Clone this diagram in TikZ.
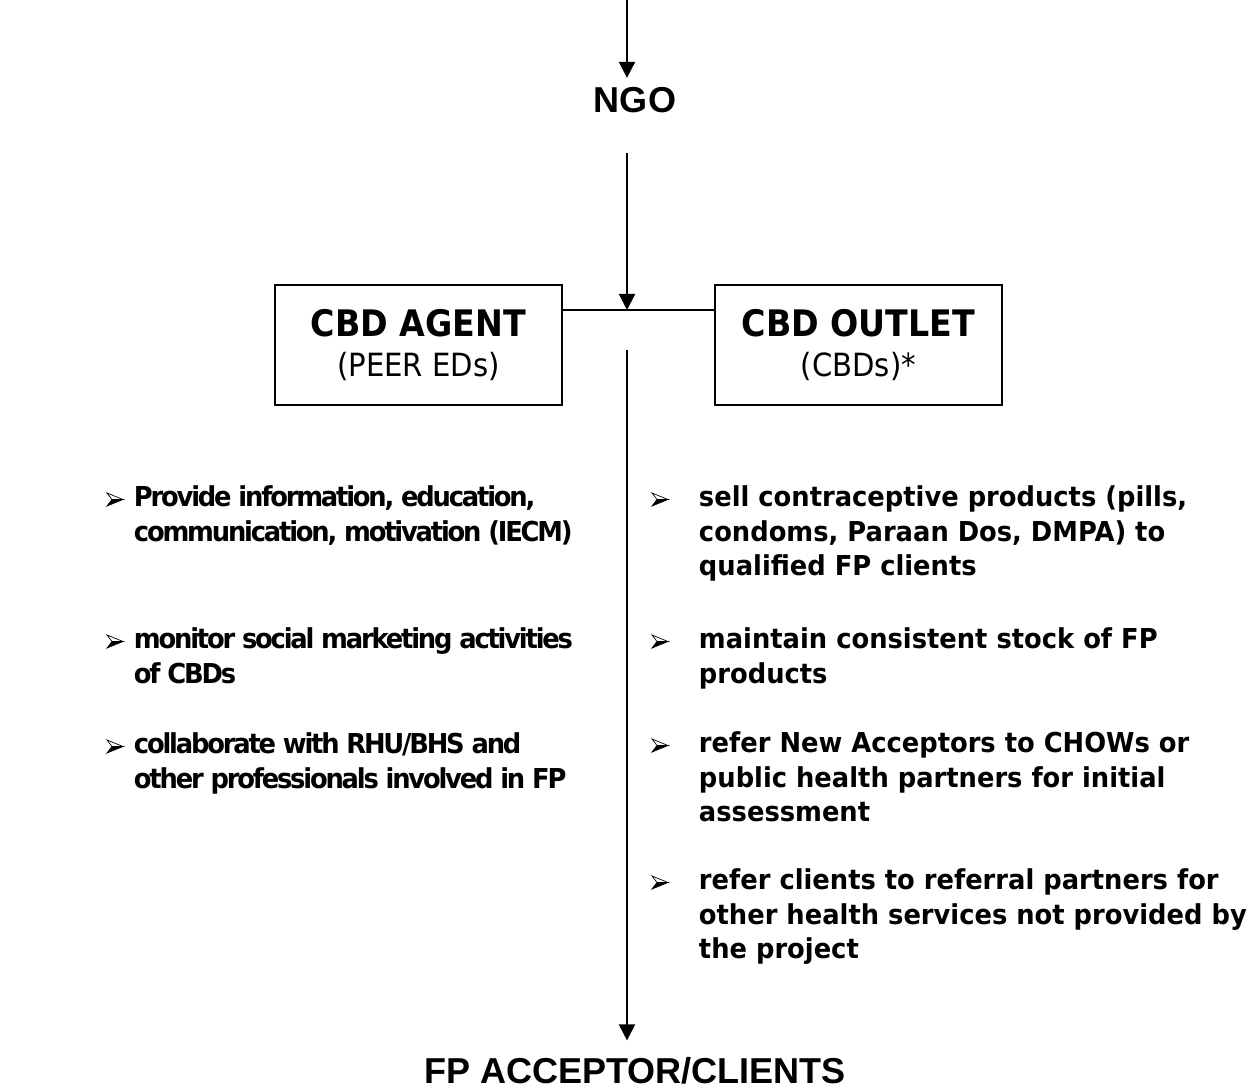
\documentclass[tikz,border=0pt]{standalone}
\usepackage{fontspec}
\setmainfont{DejaVu Sans}
\newfontfamily\itemfont{DejaVu Sans}[FakeStretch=0.94,LetterSpace=-8]
\newfontfamily\wideitemfont{DejaVu Sans}[FakeStretch=0.94]
\newfontfamily\boxfont{DejaVu Sans}[FakeStretch=0.91]
\newfontfamily\headfont{Liberation Sans}
\usetikzlibrary{arrows.meta,calc}

\begin{document}
\begin{tikzpicture}[x=0.2mm,y=-0.2mm,line width=1.1pt,
    arr/.style={-{Triangle[length=3.2mm,width=3.2mm]}},
    box/.style={draw,minimum width=57.4mm,minimum height=24mm,align=center,inner sep=0pt,
        font=\boxfont\fontsize{18.2}{22.8}\selectfont},
    head/.style={inner sep=0pt,font=\headfont\bfseries\fontsize{20.5}{24}\selectfont},
    task/.style={anchor=north west,align=left,inner sep=0pt,
        font=\itemfont\bfseries\fontsize{15.6}{19.6}\selectfont},
    widetask/.style={task,font=\wideitemfont\bfseries\fontsize{15.6}{19.6}\selectfont},
    bularrow/.pic={
        \filldraw[line width=0.4pt,fill=white] (-8,-6.5) -- (8,0) -- (-3,0) -- cycle;
        \filldraw[line width=0.4pt] (-8,6.5) -- (8,0) -- (-3,0) -- cycle;}]
    \useasboundingbox (0,0) rectangle (1257,1087);
    %\draw[help lines] (0,0) grid[step=100] (1257,1087);
    \coordinate (top) at (627,0);
    \coordinate (junc) at (627,310);
    \coordinate (gap) at (627,350);
    \node[head,anchor=base] (ngo) at (635,113) {NGO};
    \node[box] (agent) at (418.5,345) {{\bfseries\fontsize{20.8}{22.8}\selectfont CBD AGENT}\\(PEER EDs)};
    \node[box] (outlet) at (858.5,345) {{\bfseries\fontsize{20.8}{22.8}\selectfont CBD OUTLET}\\(CBDs)*};
    \node[head,anchor=base] (clients) at (635,1083) {FP ACCEPTOR/CLIENTS};
    \draw[arr,shorten >=1.8mm] (top) -- (top |- ngo.north);
    \draw[arr,shorten <=7.8mm] (ngo.south -| junc) -- (junc);
    \draw (agent.east |- junc) -- (junc -| outlet.west);
    \draw[arr,shorten >=3.1mm] (gap) -- (gap |- clients.north);
    % left column
    \node[task] (t1) at (133,485) {Provide information, education,\\communication, motivation (IECM)};
    \node[task] (t2) at (133,627) {monitor social marketing activities\\of CBDs};
    \node[task] (t3) at (133,732) {collaborate with RHU/BHS and\\other professionals involved in FP};
    % right column
    \node[widetask] (t4) at (698,485) {sell contraceptive products (pills,\\condoms, Paraan Dos, DMPA) to\\qualified FP clients};
    \node[widetask] (t5) at (698,627) {maintain consistent stock of FP\\products};
    \node[widetask] (t6) at (698,731) {refer New Acceptors to CHOWs or\\public health partners for initial\\assessment};
    \node[widetask] (t7) at (698,868) {refer clients to referral partners for\\other health services not provided by\\the project};
    \foreach \y in {506,648,753}
        \pic at (115,\y-6.5) {bularrow};
    \foreach \y in {506,648,752,889}
        \pic at (660,\y-6.5) {bularrow};
\end{tikzpicture}
\end{document}
